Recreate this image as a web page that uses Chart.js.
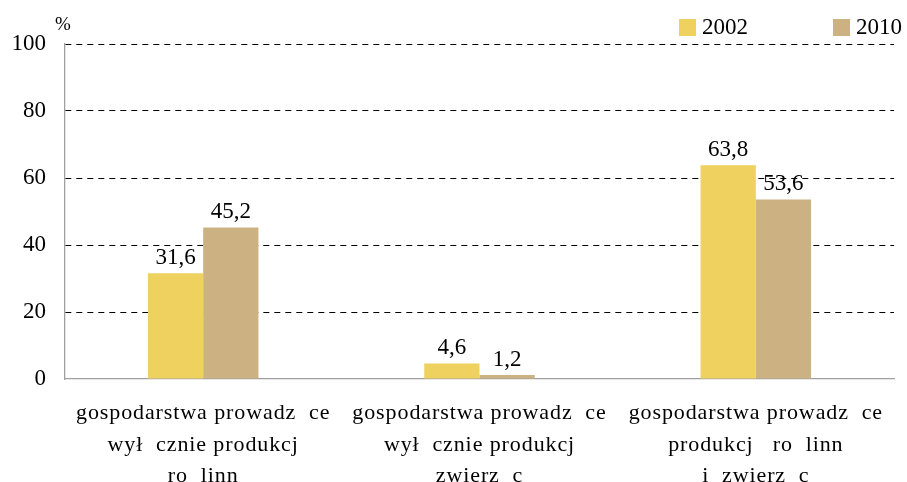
<!DOCTYPE html>
<html>
<head>
<meta charset="utf-8">
<script src="https://cdn.jsdelivr.net/npm/chart.js@4"></script>
<style>
  html, body { margin: 0; padding: 0; background: #fff; }
  #wrap { width: 907px; height: 482px; position: relative; }
</style>
</head>
<body>
<div id="wrap"><canvas id="chart"></canvas></div>
<script>
const categories = [
  ['gospodarstwa prowadz  ce', 'wył  cznie produkcj', 'ro  linn'],
  ['gospodarstwa prowadz  ce', 'wył  cznie produkcj', 'zwierz  c'],
  ['gospodarstwa prowadz  ce', 'produkcj   ro  linn', 'i  zwierz  c']
]
const seriesNames = ['2002', '2010']
const values2002 = [31.6, 4.6, 63.8]
const values2010 = [45.2, 1.2, 53.6]
const colors = ['#EFD15F', '#CCB282']
const yTicks = [0, 20, 40, 60, 80, 100]

const FONT = "'Liberation Serif', 'Times New Roman', serif"

const extras = {
  id: 'extras',
  afterDatasetsDraw(chart) {
    const ctx = chart.ctx
    ctx.save()
    ctx.fillStyle = '#000'
    ctx.font = `23px ${FONT}`
    ctx.textAlign = 'center'
    ctx.textBaseline = 'bottom'
    chart.data.datasets.forEach((ds, i) => {
      chart.getDatasetMeta(i).data.forEach((bar, j) => {
        ctx.fillText(String(ds.data[j]).replace('.', ','), bar.x, bar.y - 4)
      })
    })
    // % label
    ctx.font = `19px ${FONT}`
    ctx.textAlign = 'left'
    ctx.textBaseline = 'alphabetic'
    ctx.fillText('%', 55, 30)
    // legend
    const legendX = [679, 833]
    ctx.font = `23px ${FONT}`
    chart.data.datasets.forEach((ds, i) => {
      ctx.fillStyle = ds.backgroundColor
      ctx.fillRect(legendX[i], 19, 17, 17)
      ctx.fillStyle = '#000'
      ctx.fillText(ds.label, legendX[i] + 23, 34)
    })
    // category labels
    const xs = chart.scales.x
    ctx.font = `22px ${FONT}`
    ctx.textAlign = 'center'
    ctx.letterSpacing = '0.9px'
    chart.data.labels.forEach((lines, i) => {
      const x = xs.getPixelForTick(i)
      lines.forEach((t, k) => ctx.fillText(t, x, 419 + k * 31.5))
    })
    ctx.restore()
  }
}

new Chart(document.getElementById('chart'), {
  type: 'bar',
  data: {
    labels: categories,
    datasets: [
      { label: seriesNames[0], data: values2002, backgroundColor: colors[0] },
      { label: seriesNames[1], data: values2010, backgroundColor: colors[1] }
    ]
  },
  options: {
    responsive: true,
    maintainAspectRatio: false,
    animation: false,
    layout: { padding: { top: 44, right: 13, left: 0, bottom: 0 } },
    datasets: { bar: { categoryPercentage: 0.40, barPercentage: 1.0 } },
    plugins: { legend: { display: false }, tooltip: { enabled: false } },
    scales: {
      x: {
        grid: { display: false },
        border: { color: '#A0A0A0', width: 1.3 },
        ticks: { display: false },
        afterFit: s => { s.height = 103 }
      },
      y: {
        min: 0,
        max: 100,
        afterBuildTicks: s => { s.ticks = yTicks.map(v => ({ value: v })) },
        grid: {
          drawTicks: false,
          color: c => (c.tick && c.tick.value === 0) ? 'rgba(0,0,0,0)' : '#000',
          lineWidth: 1
        },
        border: { color: '#A0A0A0', width: 1.3, dash: [6, 5] },
        ticks: {
          color: '#000',
          font: { family: FONT, size: 23 },
          padding: 19
        },
        afterFit: s => { s.width = 65 }
      }
    }
  },
  plugins: [extras]
})
</script>
</body>
</html>
